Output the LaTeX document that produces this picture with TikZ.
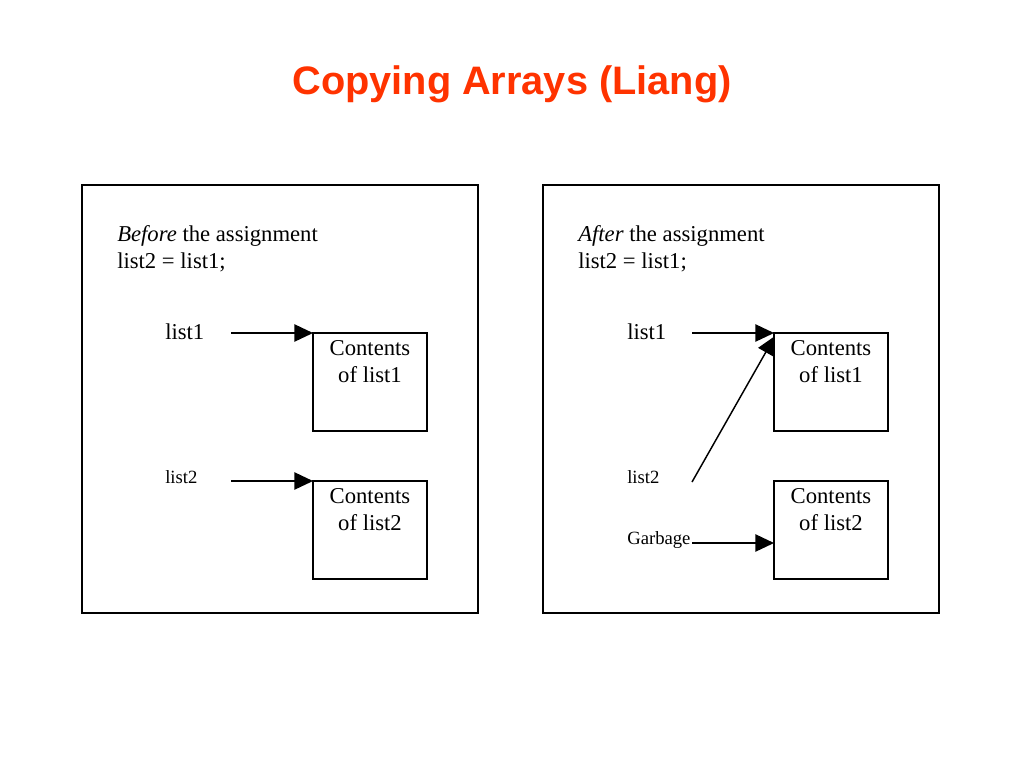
\documentclass[tikz,border=0pt]{standalone}
\usepackage{fontspec}
\setmainfont{Liberation Serif}
\newfontfamily\titlefont{Liberation Sans}
\usetikzlibrary{arrows.meta}
\definecolor{titlered}{RGB}{255,51,0}
\tikzset{
  frame/.style={draw=black, line width=1.1pt},
  membox/.style={draw=black, line width=1.1pt, minimum width=85.5pt, minimum height=73.5pt, inner sep=0pt, outer sep=0pt, anchor=north west},
  lbl/.style={anchor=base west, inner sep=0pt, font=\fontsize{17pt}{20pt}\selectfont},
  smalllbl/.style={anchor=base west, inner sep=0pt, font=\fontsize{14pt}{16pt}\selectfont},
  boxtext/.style={anchor=base, inner sep=0pt, font=\fontsize{17pt}{20pt}\selectfont},
  ptr/.style={line width=1.1pt, -{Triangle[length=14pt,width=13pt]}},
}
\begin{document}
\begin{tikzpicture}[x=0.75pt,y=-0.75pt]
\useasboundingbox (0,0) rectangle (1024,768);
\fill[white] (0,0) rectangle (1024,768);
% title
\node[anchor=base, inner sep=0pt, text=titlered, font=\titlefont\bfseries\fontsize{29.8pt}{34pt}\selectfont] (title) at (512,94) {Copying Arrays (Liang)};
% frames
\draw[frame] (82,185) rectangle (478,613);
\draw[frame] (543,185) rectangle (939,613);
% left panel
\node[lbl] (lhead1) at (117,241) {\textit{Before} the assignment};
\node[lbl] (lhead2) at (117,268) {list2 = list1;};
\node[lbl] (llist1) at (165,339) {list1};
\node[smalllbl] (llist2) at (165,483) {list2};
\coordinate (la1) at (231,333);
\coordinate (la2) at (231,481);
\node[membox] (lbox1) at (313,333) {};
\node[membox] (lbox2) at (313,481) {};
\node[boxtext] (lc1a) at (370,355) {Contents};
\node[boxtext] (lc1b) at (370,382) {of list1};
\node[boxtext] (lc2a) at (370,503) {Contents};
\node[boxtext] (lc2b) at (370,530) {of list2};
\draw[ptr] (la1) -- (lbox1.north west);
\draw[ptr] (la2) -- (lbox2.north west);
% right panel
\node[lbl] (rhead1) at (578,241) {\textit{After} the assignment};
\node[lbl] (rhead2) at (578,268) {list2 = list1;};
\node[lbl] (rlist1) at (627,339) {list1};
\node[smalllbl] (rlist2) at (627,483) {list2};
\node[smalllbl] (garb) at (627,544) {Garbage};
\coordinate (ra1) at (692,333);
\coordinate (ra2) at (692,482);
\coordinate (ra3) at (692,543);
\node[membox] (rbox1) at (774,333) {};
\node[membox] (rbox2) at (774,481) {};
\coordinate (rb1d) at (775,336);
\coordinate (rb2) at (774,543);
\node[boxtext] (rc1a) at (831,355) {Contents};
\node[boxtext] (rc1b) at (831,382) {of list1};
\node[boxtext] (rc2a) at (831,503) {Contents};
\node[boxtext] (rc2b) at (831,530) {of list2};
\draw[ptr] (ra1) -- (rbox1.north west);
\draw[ptr] (ra2) -- (rb1d);
\draw[ptr] (ra3) -- (rb2);
\end{tikzpicture}
\end{document}
